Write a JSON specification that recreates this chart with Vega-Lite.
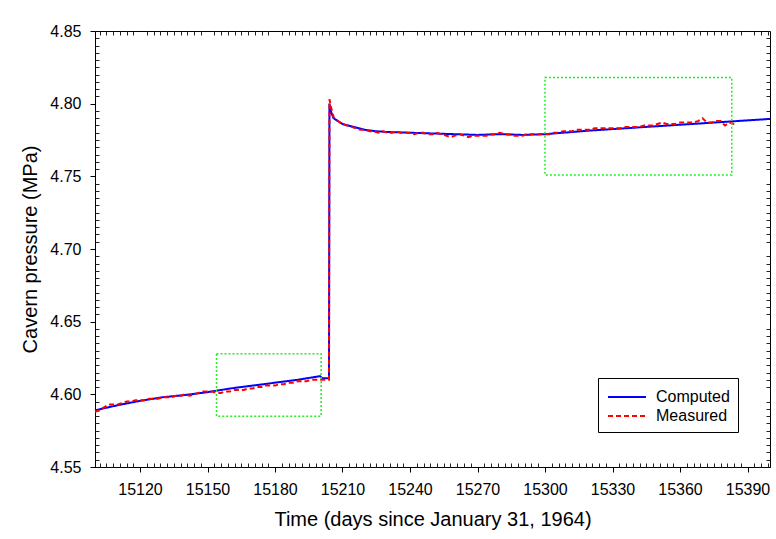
{
  "$schema": "https://vega.github.io/schema/vega-lite/v6.json",
  "width": 675,
  "height": 436,
  "autosize": "none",
  "padding": {"left": 95, "top": 31, "right": 6, "bottom": 72},
  "background": "white",
  "config": {
    "font": "Liberation Sans",
    "view": {"stroke": "black", "strokeWidth": 1},
    "axis": {"grid": false, "domainColor": "black", "tickColor": "black", "labelColor": "black", "titleColor": "black", "titleFontWeight": "normal", "labelFont": "Liberation Sans", "titleFont": "Liberation Sans"},
    "legend": {"labelFont": "Liberation Sans"}
  },
  "datasets": {
    "lines": [
      {"day": 15100, "p": 4.589, "series": "Computed"},
      {"day": 15110, "p": 4.5925, "series": "Computed"},
      {"day": 15120, "p": 4.5955, "series": "Computed"},
      {"day": 15130, "p": 4.598, "series": "Computed"},
      {"day": 15140, "p": 4.5995, "series": "Computed"},
      {"day": 15150, "p": 4.6015, "series": "Computed"},
      {"day": 15160, "p": 4.604, "series": "Computed"},
      {"day": 15170, "p": 4.606, "series": "Computed"},
      {"day": 15180, "p": 4.608, "series": "Computed"},
      {"day": 15190, "p": 4.610, "series": "Computed"},
      {"day": 15200, "p": 4.6125, "series": "Computed"},
      {"day": 15201, "p": 4.611, "series": "Computed"},
      {"day": 15204, "p": 4.611, "series": "Computed"},
      {"day": 15204.2, "p": 4.800, "series": "Computed"},
      {"day": 15205, "p": 4.794, "series": "Computed"},
      {"day": 15206, "p": 4.790, "series": "Computed"},
      {"day": 15208, "p": 4.788, "series": "Computed"},
      {"day": 15210, "p": 4.786, "series": "Computed"},
      {"day": 15215, "p": 4.784, "series": "Computed"},
      {"day": 15220, "p": 4.782, "series": "Computed"},
      {"day": 15225, "p": 4.781, "series": "Computed"},
      {"day": 15230, "p": 4.7805, "series": "Computed"},
      {"day": 15240, "p": 4.780, "series": "Computed"},
      {"day": 15250, "p": 4.7795, "series": "Computed"},
      {"day": 15260, "p": 4.779, "series": "Computed"},
      {"day": 15270, "p": 4.7785, "series": "Computed"},
      {"day": 15280, "p": 4.779, "series": "Computed"},
      {"day": 15290, "p": 4.7785, "series": "Computed"},
      {"day": 15300, "p": 4.779, "series": "Computed"},
      {"day": 15320, "p": 4.7815, "series": "Computed"},
      {"day": 15340, "p": 4.7835, "series": "Computed"},
      {"day": 15360, "p": 4.7855, "series": "Computed"},
      {"day": 15380, "p": 4.7875, "series": "Computed"},
      {"day": 15400, "p": 4.7895, "series": "Computed"},
      {"day": 15100, "p": 4.588, "series": "Measured"},
      {"day": 15102, "p": 4.589, "series": "Measured"},
      {"day": 15104, "p": 4.591, "series": "Measured"},
      {"day": 15106, "p": 4.593, "series": "Measured"},
      {"day": 15108, "p": 4.593, "series": "Measured"},
      {"day": 15110, "p": 4.593, "series": "Measured"},
      {"day": 15112, "p": 4.594, "series": "Measured"},
      {"day": 15114, "p": 4.595, "series": "Measured"},
      {"day": 15116, "p": 4.595, "series": "Measured"},
      {"day": 15118, "p": 4.596, "series": "Measured"},
      {"day": 15120, "p": 4.596, "series": "Measured"},
      {"day": 15122, "p": 4.596, "series": "Measured"},
      {"day": 15124, "p": 4.597, "series": "Measured"},
      {"day": 15126, "p": 4.597, "series": "Measured"},
      {"day": 15128, "p": 4.597, "series": "Measured"},
      {"day": 15130, "p": 4.598, "series": "Measured"},
      {"day": 15132, "p": 4.598, "series": "Measured"},
      {"day": 15134, "p": 4.598, "series": "Measured"},
      {"day": 15136, "p": 4.599, "series": "Measured"},
      {"day": 15138, "p": 4.599, "series": "Measured"},
      {"day": 15140, "p": 4.600, "series": "Measured"},
      {"day": 15142, "p": 4.599, "series": "Measured"},
      {"day": 15144, "p": 4.600, "series": "Measured"},
      {"day": 15146, "p": 4.601, "series": "Measured"},
      {"day": 15148, "p": 4.602, "series": "Measured"},
      {"day": 15150, "p": 4.602, "series": "Measured"},
      {"day": 15152, "p": 4.602, "series": "Measured"},
      {"day": 15154, "p": 4.601, "series": "Measured"},
      {"day": 15156, "p": 4.601, "series": "Measured"},
      {"day": 15158, "p": 4.602, "series": "Measured"},
      {"day": 15160, "p": 4.602, "series": "Measured"},
      {"day": 15162, "p": 4.603, "series": "Measured"},
      {"day": 15164, "p": 4.603, "series": "Measured"},
      {"day": 15166, "p": 4.603, "series": "Measured"},
      {"day": 15168, "p": 4.604, "series": "Measured"},
      {"day": 15170, "p": 4.604, "series": "Measured"},
      {"day": 15172, "p": 4.605, "series": "Measured"},
      {"day": 15174, "p": 4.605, "series": "Measured"},
      {"day": 15176, "p": 4.606, "series": "Measured"},
      {"day": 15178, "p": 4.606, "series": "Measured"},
      {"day": 15180, "p": 4.606, "series": "Measured"},
      {"day": 15182, "p": 4.607, "series": "Measured"},
      {"day": 15184, "p": 4.607, "series": "Measured"},
      {"day": 15186, "p": 4.608, "series": "Measured"},
      {"day": 15188, "p": 4.608, "series": "Measured"},
      {"day": 15190, "p": 4.609, "series": "Measured"},
      {"day": 15192, "p": 4.609, "series": "Measured"},
      {"day": 15194, "p": 4.609, "series": "Measured"},
      {"day": 15196, "p": 4.610, "series": "Measured"},
      {"day": 15198, "p": 4.610, "series": "Measured"},
      {"day": 15200, "p": 4.610, "series": "Measured"},
      {"day": 15202, "p": 4.610, "series": "Measured"},
      {"day": 15204, "p": 4.610, "series": "Measured"},
      {"day": 15204.2, "p": 4.803, "series": "Measured"},
      {"day": 15205, "p": 4.797, "series": "Measured"},
      {"day": 15206, "p": 4.791, "series": "Measured"},
      {"day": 15207, "p": 4.789, "series": "Measured"},
      {"day": 15208, "p": 4.788, "series": "Measured"},
      {"day": 15210, "p": 4.786, "series": "Measured"},
      {"day": 15212, "p": 4.785, "series": "Measured"},
      {"day": 15214, "p": 4.784, "series": "Measured"},
      {"day": 15216, "p": 4.783, "series": "Measured"},
      {"day": 15218, "p": 4.782, "series": "Measured"},
      {"day": 15220, "p": 4.782, "series": "Measured"},
      {"day": 15222, "p": 4.781, "series": "Measured"},
      {"day": 15224, "p": 4.781, "series": "Measured"},
      {"day": 15226, "p": 4.780, "series": "Measured"},
      {"day": 15228, "p": 4.781, "series": "Measured"},
      {"day": 15230, "p": 4.780, "series": "Measured"},
      {"day": 15232, "p": 4.780, "series": "Measured"},
      {"day": 15234, "p": 4.781, "series": "Measured"},
      {"day": 15236, "p": 4.780, "series": "Measured"},
      {"day": 15238, "p": 4.780, "series": "Measured"},
      {"day": 15240, "p": 4.780, "series": "Measured"},
      {"day": 15242, "p": 4.779, "series": "Measured"},
      {"day": 15244, "p": 4.780, "series": "Measured"},
      {"day": 15246, "p": 4.780, "series": "Measured"},
      {"day": 15248, "p": 4.779, "series": "Measured"},
      {"day": 15250, "p": 4.779, "series": "Measured"},
      {"day": 15252, "p": 4.780, "series": "Measured"},
      {"day": 15254, "p": 4.779, "series": "Measured"},
      {"day": 15256, "p": 4.778, "series": "Measured"},
      {"day": 15258, "p": 4.777, "series": "Measured"},
      {"day": 15260, "p": 4.778, "series": "Measured"},
      {"day": 15262, "p": 4.779, "series": "Measured"},
      {"day": 15264, "p": 4.778, "series": "Measured"},
      {"day": 15266, "p": 4.777, "series": "Measured"},
      {"day": 15268, "p": 4.778, "series": "Measured"},
      {"day": 15270, "p": 4.778, "series": "Measured"},
      {"day": 15272, "p": 4.778, "series": "Measured"},
      {"day": 15274, "p": 4.778, "series": "Measured"},
      {"day": 15276, "p": 4.779, "series": "Measured"},
      {"day": 15278, "p": 4.779, "series": "Measured"},
      {"day": 15280, "p": 4.780, "series": "Measured"},
      {"day": 15282, "p": 4.779, "series": "Measured"},
      {"day": 15284, "p": 4.779, "series": "Measured"},
      {"day": 15286, "p": 4.778, "series": "Measured"},
      {"day": 15288, "p": 4.778, "series": "Measured"},
      {"day": 15290, "p": 4.778, "series": "Measured"},
      {"day": 15292, "p": 4.779, "series": "Measured"},
      {"day": 15294, "p": 4.779, "series": "Measured"},
      {"day": 15296, "p": 4.779, "series": "Measured"},
      {"day": 15298, "p": 4.779, "series": "Measured"},
      {"day": 15300, "p": 4.779, "series": "Measured"},
      {"day": 15302, "p": 4.779, "series": "Measured"},
      {"day": 15304, "p": 4.780, "series": "Measured"},
      {"day": 15306, "p": 4.780, "series": "Measured"},
      {"day": 15308, "p": 4.781, "series": "Measured"},
      {"day": 15310, "p": 4.781, "series": "Measured"},
      {"day": 15312, "p": 4.781, "series": "Measured"},
      {"day": 15314, "p": 4.782, "series": "Measured"},
      {"day": 15316, "p": 4.782, "series": "Measured"},
      {"day": 15318, "p": 4.782, "series": "Measured"},
      {"day": 15320, "p": 4.782, "series": "Measured"},
      {"day": 15322, "p": 4.783, "series": "Measured"},
      {"day": 15324, "p": 4.783, "series": "Measured"},
      {"day": 15326, "p": 4.783, "series": "Measured"},
      {"day": 15328, "p": 4.783, "series": "Measured"},
      {"day": 15330, "p": 4.783, "series": "Measured"},
      {"day": 15332, "p": 4.783, "series": "Measured"},
      {"day": 15334, "p": 4.783, "series": "Measured"},
      {"day": 15336, "p": 4.784, "series": "Measured"},
      {"day": 15338, "p": 4.784, "series": "Measured"},
      {"day": 15340, "p": 4.784, "series": "Measured"},
      {"day": 15342, "p": 4.784, "series": "Measured"},
      {"day": 15344, "p": 4.785, "series": "Measured"},
      {"day": 15346, "p": 4.785, "series": "Measured"},
      {"day": 15348, "p": 4.785, "series": "Measured"},
      {"day": 15350, "p": 4.786, "series": "Measured"},
      {"day": 15352, "p": 4.787, "series": "Measured"},
      {"day": 15354, "p": 4.786, "series": "Measured"},
      {"day": 15356, "p": 4.786, "series": "Measured"},
      {"day": 15358, "p": 4.786, "series": "Measured"},
      {"day": 15360, "p": 4.787, "series": "Measured"},
      {"day": 15362, "p": 4.787, "series": "Measured"},
      {"day": 15364, "p": 4.787, "series": "Measured"},
      {"day": 15366, "p": 4.787, "series": "Measured"},
      {"day": 15368, "p": 4.788, "series": "Measured"},
      {"day": 15370, "p": 4.790, "series": "Measured"},
      {"day": 15372, "p": 4.787, "series": "Measured"},
      {"day": 15374, "p": 4.787, "series": "Measured"},
      {"day": 15376, "p": 4.788, "series": "Measured"},
      {"day": 15378, "p": 4.788, "series": "Measured"},
      {"day": 15380, "p": 4.785, "series": "Measured"},
      {"day": 15382, "p": 4.787, "series": "Measured"},
      {"day": 15384, "p": 4.786, "series": "Measured"},
      {"day": 15385, "p": 4.786, "series": "Measured"}
    ],
    "boxes": [
      {"d0": 15154, "d1": 15200.5, "p0": 4.585, "p1": 4.628},
      {"d0": 15300, "d1": 15383, "p0": 4.751, "p1": 4.818}
    ]
  },
  "layer": [
    {
      "data": {"name": "lines"},
      "transform": [{"filter": "datum.series === 'Computed'"}],
      "mark": {"type": "line", "strokeWidth": 2},
      "encoding": {
        "x": {"field": "day", "type": "quantitative", "scale": {"domain": [15100, 15400], "nice": false, "zero": false},
          "axis": {"orient": "bottom", "title": "Time (days since January 31, 1964)", "values": [15120, 15150, 15180, 15210, 15240, 15270, 15300, 15330, 15360, 15390], "format": "d", "tickSize": 5, "labelFontSize": 16, "labelPadding": 9, "titleFontSize": 20, "titlePadding": 12, "labelFlush": false}},
        "y": {"field": "p", "type": "quantitative", "scale": {"domain": [4.55, 4.85], "nice": false, "zero": false},
          "axis": {"orient": "left", "title": "Cavern pressure (MPa)", "values": [4.55, 4.6, 4.65, 4.7, 4.75, 4.8, 4.85], "format": ".2f", "tickSize": 5, "labelFontSize": 16, "labelPadding": 9, "titleFontSize": 20, "titlePadding": 9, "labelFlush": false}},
        "color": {"field": "series", "type": "nominal", "scale": {"domain": ["Computed", "Measured"], "range": ["#0000ff", "#ff0000"]},
          "legend": {"title": null, "orient": "none", "legendX": 503, "legendY": 347, "strokeColor": "black", "padding": 8, "fillColor": "white", "labelFontSize": 16, "symbolType": "M-1.9,0H1.9", "symbolSize": 400, "symbolStrokeWidth": 2, "symbolOffset": 10, "labelOffset": 18, "rowPadding": 0}},
        "strokeDash": {"field": "series", "type": "nominal", "scale": {"domain": ["Computed", "Measured"], "range": [[1, 0], [5, 3]]}, "legend": null}
      }
    },
    {
      "data": {"name": "lines"},
      "transform": [{"filter": "datum.series === 'Measured'"}],
      "mark": {"type": "line", "strokeWidth": 2},
      "encoding": {
        "x": {"field": "day", "type": "quantitative",
          "axis": {"orient": "top", "offset": -436, "title": null, "labels": false, "domain": false, "tickSize": 4, "tickColor": "#222222", "values": [15102,15105,15108,15111,15114,15117,15123,15126,15129,15132,15135,15138,15141,15144,15147,15153,15156,15159,15162,15165,15168,15171,15174,15177,15183,15186,15189,15192,15195,15198,15201,15204,15207,15213,15216,15219,15222,15225,15228,15231,15234,15237,15243,15246,15249,15252,15255,15258,15261,15264,15267,15273,15276,15279,15282,15285,15288,15291,15294,15297,15303,15306,15309,15312,15315,15318,15321,15324,15327,15333,15336,15339,15342,15345,15348,15351,15354,15357,15363,15366,15369,15372,15375,15378,15381,15384,15387,15393,15396,15399]}},
        "y": {"field": "p", "type": "quantitative",
          "axis": {"orient": "right", "offset": -675, "title": null, "labels": false, "domain": false, "tickSize": 4, "tickColor": "#222222", "values": [4.555,4.56,4.565,4.57,4.575,4.58,4.585,4.59,4.595,4.605,4.61,4.615,4.62,4.625,4.63,4.635,4.64,4.645,4.655,4.66,4.665,4.67,4.675,4.68,4.685,4.69,4.695,4.705,4.71,4.715,4.72,4.725,4.73,4.735,4.74,4.745,4.755,4.76,4.765,4.77,4.775,4.78,4.785,4.79,4.795,4.805,4.81,4.815,4.82,4.825,4.83,4.835,4.84,4.845]}},
        "color": {"field": "series", "type": "nominal"},
        "strokeDash": {"field": "series", "type": "nominal"}
      }
    },
    {
      "data": {"name": "boxes"},
      "mark": {"type": "rect", "fill": null, "filled": false, "stroke": "#22ee22", "strokeWidth": 1.5, "strokeDash": [2, 2]},
      "encoding": {
        "x": {"field": "d0", "type": "quantitative",
          "axis": {"orient": "bottom", "offset": -436, "title": null, "labels": false, "domain": false, "tickSize": 4, "tickColor": "#222222", "values": [15102,15105,15108,15111,15114,15117,15123,15126,15129,15132,15135,15138,15141,15144,15147,15153,15156,15159,15162,15165,15168,15171,15174,15177,15183,15186,15189,15192,15195,15198,15201,15204,15207,15213,15216,15219,15222,15225,15228,15231,15234,15237,15243,15246,15249,15252,15255,15258,15261,15264,15267,15273,15276,15279,15282,15285,15288,15291,15294,15297,15303,15306,15309,15312,15315,15318,15321,15324,15327,15333,15336,15339,15342,15345,15348,15351,15354,15357,15363,15366,15369,15372,15375,15378,15381,15384,15387,15393,15396,15399]}},
        "x2": {"field": "d1"},
        "y": {"field": "p0", "type": "quantitative",
          "axis": {"orient": "left", "offset": -675, "title": null, "labels": false, "domain": false, "tickSize": 4, "tickColor": "#222222", "values": [4.555,4.56,4.565,4.57,4.575,4.58,4.585,4.59,4.595,4.605,4.61,4.615,4.62,4.625,4.63,4.635,4.64,4.645,4.655,4.66,4.665,4.67,4.675,4.68,4.685,4.69,4.695,4.705,4.71,4.715,4.72,4.725,4.73,4.735,4.74,4.745,4.755,4.76,4.765,4.77,4.775,4.78,4.785,4.79,4.795,4.805,4.81,4.815,4.82,4.825,4.83,4.835,4.84,4.845]}},
        "y2": {"field": "p1"}
      }
    }
  ],
  "resolve": {"axis": {"x": "independent", "y": "independent"}}
}
